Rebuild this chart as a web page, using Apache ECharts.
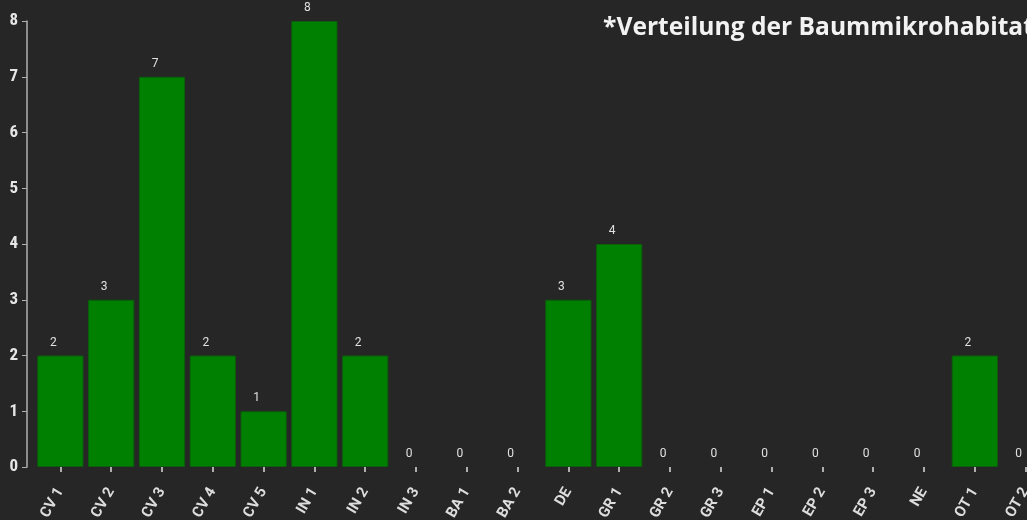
<!DOCTYPE html>
<html>
<head>
<meta charset="utf-8">
<script src="https://cdn.jsdelivr.net/npm/echarts@6/dist/echarts.min.js"></script>
<style>
  html, body { margin: 0; padding: 0; background: #262626; }
  #chart { width: 1027px; height: 520px; }
</style>
</head>
<body>
<div id="chart"></div>
<script>
const categories = [
  "CV 1", "CV 2", "CV 3", "CV 4", "CV 5", "IN 1", "IN 2", "IN 3", "BA 1", "BA 2",
  "DE", "GR 1", "GR 2", "GR 3", "EP 1", "EP 2", "EP 3", "NE", "OT 1", "OT 2",
];
const counts = [2, 3, 7, 2, 1, 8, 2, 0, 0, 0, 3, 4, 0, 0, 0, 0, 0, 0, 2, 0];
const titleText = "*Verteilung der Baummikrohabitate";

const chart = echarts.init(document.getElementById("chart"), null, { renderer: "canvas" });

// zero-height bars get no outline, otherwise a thin line shows at the baseline
const barData = counts.map((v) =>
  v === 0 ? { value: v, itemStyle: { borderWidth: 0 } } : v
);

chart.setOption({
  animation: false,
  backgroundColor: "#262626",
  title: {
    text: titleText,
    left: 598,
    top: 10,
    textStyle: {
      color: "#f2f2f2",
      fontFamily: "Open Sans",
      fontWeight: "bold",
      fontSize: 24.6,
    },
  },
  grid: {
    left: 35,
    top: 21,
    bottom: 53,
    width: 1016,
    containLabel: false,
    outerBoundsMode: "none",
  },
  xAxis: {
    type: "category",
    data: categories,
    axisLine: { show: false },
    axisTick: {
      show: true,
      alignWithLabel: true,
      length: 5,
      lineStyle: { color: "#dddddd", width: 1.5 },
    },
    axisLabel: {
      rotate: 60,
      margin: 22,
      interval: 0,
      color: "#dddddd",
      fontFamily: "Roboto",
      fontWeight: "bold",
      fontSize: 15,
    },
  },
  yAxis: {
    type: "value",
    min: 0,
    max: 8,
    interval: 1,
    offset: 8,
    splitLine: { show: false },
    axisLine: { show: true, lineStyle: { color: "#b0b0b0", width: 1.5 } },
    axisTick: { show: true, length: 5, lineStyle: { color: "#b0b0b0" } },
    axisLabel: {
      color: "#e6e6e6",
      fontFamily: "Roboto Condensed, Roboto",
      fontWeight: "bold",
      fontSize: 17,
      margin: 9,
    },
  },
  series: [
    {
      type: "bar",
      data: barData,
      barCategoryGap: "9%",
      itemStyle: {
        color: "#008000",
        borderColor: "#0b5e0b",
        borderWidth: 1,
      },
      label: {
        show: true,
        position: "top",
        distance: 7,
        offset: [-7, 0],
        color: "#e0e0e0",
        fontFamily: "Roboto",
        fontSize: 12,
      },
    },
  ],
});
</script>
</body>
</html>
